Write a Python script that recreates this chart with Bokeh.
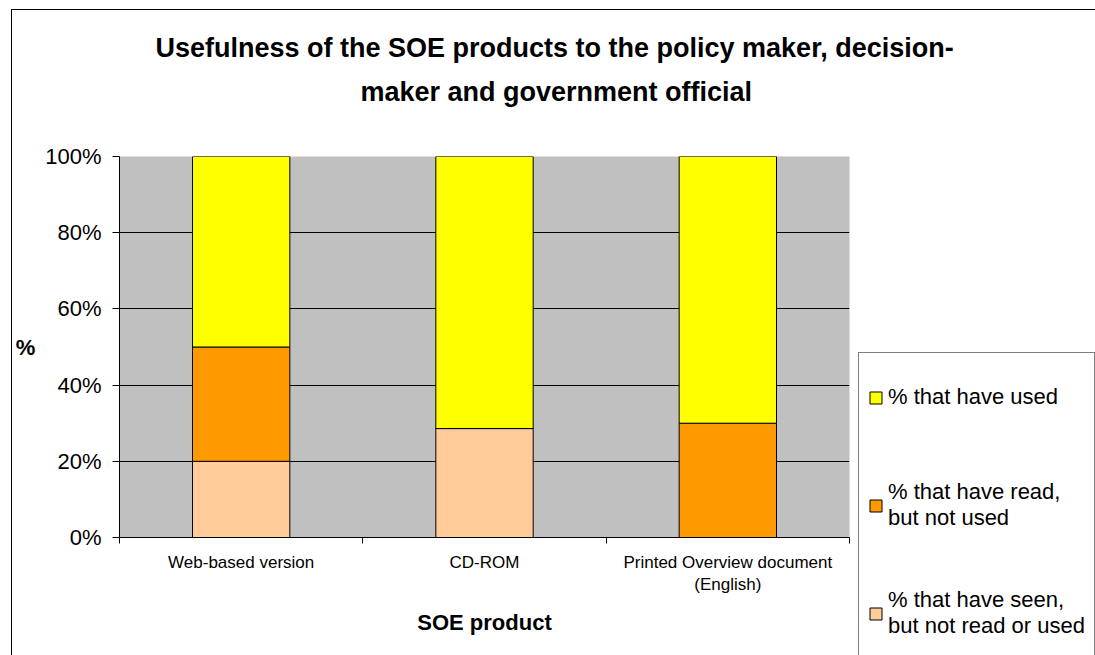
from bokeh.plotting import figure
from bokeh.models import (Range1d, FixedTicker, PrintfTickFormatter, Title,
                          Legend, LegendItem, ColumnDataSource)
from bokeh.embed import file_html
from bokeh.resources import INLINE

categories = ["Web-based version", "CD-ROM", "Printed Overview document\n(English)"]
seen = [20, 28.6, 0]
read = [30, 0, 30]
used = [50, 71.4, 70]
series_keys = ["seen", "read", "used"]
series_labels = ["% that have seen,\nbut not read or used", "% that have read,\nbut not used", "% that have used"]
series_colors = ["#FFCC99", "#FF9900", "#FFFF00"]
y_ticks = [0, 20, 40, 60, 80, 100]
title_lines = ["Usefulness of the SOE products to the policy maker, decision-",
               "maker and government official"]

FONT = "Liberation Sans"

OX, OY = 12, 10          # figure content origin on the page
W, H = 1095 - OX, 655 - OY
FL, FR, FT, FB = 117 - OX, 847 - OX, 156 - OY, 537 - OY

p = figure(frame_width=FR - FL, frame_height=FB - FT, output_backend="svg", toolbar_location=None,
           x_range=Range1d(0, len(categories)), y_range=Range1d(0, 100),
           min_border_left=FL, min_border_right=W - FR, min_border_top=FT, min_border_bottom=H - FB)
p.margin = (OY - 1, 0, 0, OX - 1)
p.styles = {"border-top": "1px solid #000000", "border-left": "1px solid #000000"}
p.background_fill_color = "#C0C0C0"
p.border_fill_color = "white"
p.outline_line_color = None

xpos = [i + 0.5 for i in range(len(categories))]
src = ColumnDataSource(dict(x=xpos, seen=seen, read=read, used=used))
rs = p.vbar_stack(series_keys, x="x", width=0.4, source=src,
                  fill_color=series_colors, line_color="black", line_width=1)

# y axis
p.yaxis.ticker = FixedTicker(ticks=y_ticks)
p.yaxis.formatter = PrintfTickFormatter(format="%d%%")
p.yaxis.major_label_text_font = FONT
p.yaxis.major_label_text_font_size = "22px"
p.yaxis.major_label_text_color = "black"
p.yaxis.major_tick_out = 7
p.yaxis.major_tick_in = 0
p.yaxis.minor_tick_out = 0
p.yaxis.major_label_standoff = 11
p.yaxis.axis_line_color = "black"
p.yaxis.major_tick_line_color = "black"
p.yaxis.axis_label = "%"
p.yaxis.axis_label_text_font = FONT
p.yaxis.axis_label_text_font_size = "22px"
p.yaxis.axis_label_text_font_style = "bold"
p.yaxis.axis_label_text_color = "black"
p.yaxis.axis_label_standoff = 7
yax = p.yaxis[0]
if "axis_label_orientation" in yax.properties():
    yax.axis_label_orientation = "horizontal"

# x axis
p.xaxis.ticker = FixedTicker(ticks=xpos, minor_ticks=list(range(len(categories) + 1)))
p.xaxis.major_label_overrides = {x: c for x, c in zip(xpos, categories)}
p.xaxis.major_label_text_font = FONT
p.xaxis.major_label_text_font_size = "17px"
p.xaxis.major_label_text_color = "black"
p.xaxis.major_tick_out = 0
p.xaxis.major_tick_in = 0
p.xaxis.minor_tick_out = 6
p.xaxis.minor_tick_in = 0
p.xaxis.minor_tick_line_color = "black"
p.xaxis.major_label_standoff = 9
p.xaxis.axis_line_color = "black"
p.xaxis.axis_label = "SOE product"
p.xaxis.axis_label_text_font = FONT
p.xaxis.axis_label_text_font_size = "22px"
p.xaxis.axis_label_text_font_style = "bold"
p.xaxis.axis_label_text_color = "black"
p.xaxis.axis_label_standoff = 13

p.xgrid.visible = False
p.ygrid.ticker = FixedTicker(ticks=[20, 40, 60, 80])
p.ygrid.grid_line_color = "black"
p.ygrid.grid_line_width = 1

# title: spacer nearest the frame, then line 2, then line 1
p.add_layout(Title(text=" ", text_font_size="10px", standoff=31), "above")
for line, off in [(title_lines[1], 241), (title_lines[0], 36)]:
    p.add_layout(Title(text=line, align="left", offset=off, standoff=12,
                       text_font=FONT, text_font_size="27px", text_font_style="bold",
                       text_color="black"), "above")

# legend (top to bottom: used, read, seen)
items = [LegendItem(label=series_labels[i], renderers=[rs[i]]) for i in [2, 1, 0]]
leg = Legend(items=items, location=(9, -121), padding=9, margin=0, spacing=38,
             glyph_width=15, glyph_height=15, label_standoff=5, label_height=70,
             label_text_font=FONT, label_text_font_size="22px", label_text_color="black",
             border_line_color="black", border_line_width=1, background_fill_color="white",
             background_fill_alpha=1)
p.add_layout(leg, "right")

open("out.html", "w").write(file_html(p, INLINE))
